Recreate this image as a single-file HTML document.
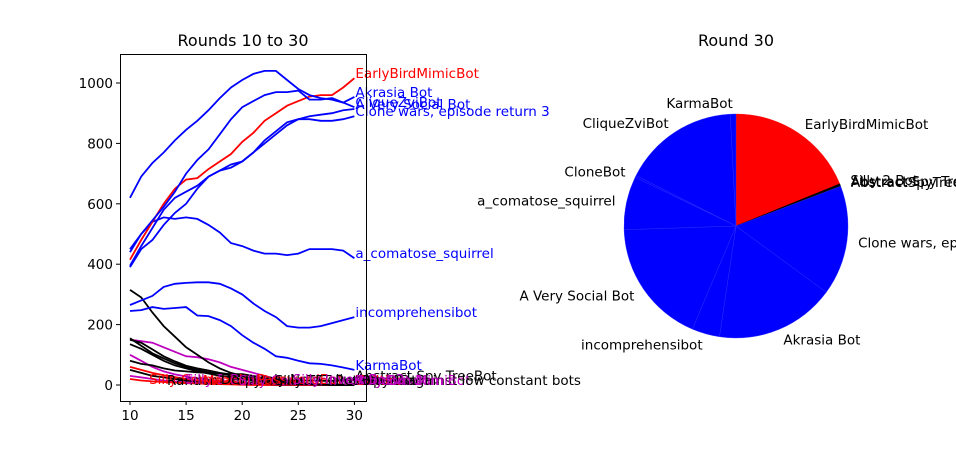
<!DOCTYPE html>
<html><head><meta charset="utf-8"><style>
body{margin:0;background:#fff}
svg{display:block;font-family:"DejaVu Sans","Liberation Sans",sans-serif}
</style></head><body>
<svg id="c" width="956" height="450" viewBox="0 0 956 450">
<rect width="956" height="450" fill="#fff"/>
<text x="243" y="46" font-size="16" text-anchor="middle">Rounds 10 to 30</text>
<text x="736" y="46" font-size="16" text-anchor="middle">Round 30</text>
<g id="lines"></g>
<g id="pie"></g>
</svg>
<script>
const rounds=[10,11,12,13,14,15,16,17,18,19,20,21,22,23,24,25,26,27,28,29,30];
const xTicks=[10,15,20,25,30];
const yTicks=[0,200,400,600,800,1000];
const seriesNames=["CliqueZviBot","Akrasia Bot","EarlyBirdMimicBot","A Very Social Bot","Clone wars, episode return 3","a_comatose_squirrel","incomprehensibot","KarmaBot","Abstract Spy TreeBot","Silly 2 Bot","CloneBot","Copycat","Silly Random Bot","Winner against low constant bots","Multics","Silly Bot 2","Measure","Zvi","Random Mimic"];
const seriesColors=["blue","blue","red","blue","blue","blue","blue","blue","black","black","black","black","#bf00bf","black","red","#bf00bf","black","red","#bf00bf"];
const seriesValues=[
[620,690,735,770,810,845,875,910,950,985,1010,1030,1040,1040,1010,980,960,950,945,935,920],
[450,500,545,590,640,700,745,780,830,880,920,940,960,970,970,975,945,945,950,935,954],
[415,480,540,600,650,680,685,715,740,765,805,835,875,900,925,940,955,960,960,985,1016],
[395,460,520,580,620,640,660,690,710,720,740,770,800,830,860,880,890,895,900,910,914],
[390,450,480,530,570,600,650,690,710,730,740,770,810,840,870,880,880,875,875,880,890],
[440,500,540,555,550,555,550,530,505,470,460,445,435,435,430,435,450,450,450,445,420],
[265,280,295,325,335,338,340,340,335,320,300,270,245,225,195,190,190,195,205,215,225],
[245,248,258,252,255,258,230,228,215,195,165,140,120,95,90,80,72,70,65,58,50],
[315,290,240,195,160,125,100,75,55,40,30,22,18,16,15,15,15,14,14,15,15],
[155,130,105,88,72,60,50,42,38,32,28,22,15,10,6,4,3,2,1,1,0],
[150,140,118,95,78,64,55,48,40,34,28,22,16,12,8,5,3,2,1,0,0],
[135,120,100,80,65,55,45,38,30,25,20,15,10,8,5,3,2,1,0,0,0],
[150,145,140,125,110,95,92,85,75,60,50,40,30,20,12,8,5,3,2,1,0],
[80,70,65,55,48,45,42,40,38,36,36,30,22,15,10,6,3,2,1,0,0],
[60,50,40,32,26,20,15,12,10,8,6,5,4,3,2,1,0,0,0,0,0],
[100,80,60,45,35,28,22,18,14,10,8,6,4,3,2,1,0,0,0,0,0],
[50,40,30,25,20,15,12,10,8,6,5,4,3,2,1,0,0,0,0,0,0],
[20,15,12,10,8,6,5,4,3,2,1,0,0,0,0,0,0,0,0,0,0],
[30,25,20,15,12,10,8,6,5,4,3,2,1,0,0,0,0,0,0,0,0]
];
const pieLabels=["EarlyBirdMimicBot","Silly 2 Bot","Abstract Spy Tree","AbstractSpyTreeBot","Clone wars, episode return 3","Akrasia Bot","incomprehensibot","A Very Social Bot","a_comatose_squirrel","CloneBot","CliqueZviBot","KarmaBot"];
const pieValues=[1010,8,6,6,850,926,215,970,412,15,897,44];
const pieColors=["red","black","black","black","blue","blue","blue","blue","blue","blue","blue","blue"];

const NS="http://www.w3.org/2000/svg";
const L={x0:120,x1:366,y0:54,y1:401};
const xs=v=>130+(v-10)*11.22;
const ys=v=>385-v*0.302;
function mk(tag,attrs,parent){const e=document.createElementNS(NS,tag);for(const k in attrs)e.setAttribute(k,attrs[k]);parent.appendChild(e);return e;}
const g=document.getElementById('lines');
// series
for(let i=seriesValues.length-1;i>=0;i--){
  const vals=seriesValues[i];
  const pts=vals.map((v,j)=>xs(rounds[j]).toFixed(1)+","+ys(v).toFixed(1)).join(" ");
  const pl=mk('polyline',{points:pts,fill:'none',stroke:seriesColors[i],'stroke-width':1.8},g);
  
  
}
for(let i=0;i<seriesValues.length;i++){
  const vals=seriesValues[i];
  const t=mk('text',{x:xs(30)+1,y:ys(vals[vals.length-1]),fill:seriesColors[i],'font-size':13.5},g);
  t.textContent=seriesNames[i];
  
  
}
// clutter labels for eliminated bots
const clutter=["Silly Cement Bot","Random Copycat","Silly 5 Bot","MeasureBot","Definitely Not Collusion","Silly Counter Invert","PasswordBot","Silly TFT Bot 3","Silly Invert Bot 2"];
clutter.forEach((n,k)=>{
  const t=mk('text',{x:xs(11.7+k*1.6),y:ys(k%2?0:4),fill:['red','black','#bf00bf'][k%3],'font-size':13.5},g);
  t.textContent=n;
  
  
});
// axes frame
const fr=mk('rect',{x:L.x0+0.5,y:L.y0+0.5,width:L.x1-L.x0,height:L.y1-L.y0,fill:'none',stroke:'#000','stroke-width':1},g);


xTicks.forEach(v=>{
  const x=xs(v);
  mk('line',{x1:x,x2:x,y1:L.y1,y2:L.y1+4,stroke:'#000'},g);
  const t=mk('text',{x:x,y:L.y1+19,'font-size':13.5,'text-anchor':'middle'},g);
  t.textContent=v;
  
  
});
yTicks.forEach(v=>{
  const y=ys(v);
  mk('line',{x1:L.x0-4,x2:L.x0,y1:y,y2:y,stroke:'#000'},g);
  const t=mk('text',{x:L.x0-7,y:y+5,'font-size':13.5,'text-anchor':'end'},g);
  t.textContent=v;
  
  
});
// pie
const pg=document.getElementById('pie');
const cx=736,cy=226,r=112;
const tot=pieValues.reduce((a,b)=>a+b,0);
let ang=90;
pieValues.forEach((v,i)=>{
  const d=v/tot*360;
  const a0=ang*Math.PI/180,a1=(ang-d)*Math.PI/180;
  const x0=cx+r*Math.cos(a0),y0=cy-r*Math.sin(a0),x1=cx+r*Math.cos(a1),y1=cy-r*Math.sin(a1);
  const p=mk('path',{d:`M${cx},${cy}L${x0.toFixed(2)},${y0.toFixed(2)}A${r},${r} 0 ${d>180?1:0} 1 ${x1.toFixed(2)},${y1.toFixed(2)}Z`,fill:pieColors[i],stroke:pieColors[i]==='blue'?'#3030ff':pieColors[i],'stroke-width':0.4},pg);
  
  
  const am=(ang-d/2)*Math.PI/180;
  const lx=cx+1.1*r*Math.cos(am),ly=cy-1.1*r*Math.sin(am);
  const t=mk('text',{x:lx,y:ly+5,'font-size':13.5,'text-anchor':Math.cos(am)>=0?'start':'end'},pg);
  t.textContent=pieLabels[i];
  
  
  ang-=d;
});
</script>
</body></html>
